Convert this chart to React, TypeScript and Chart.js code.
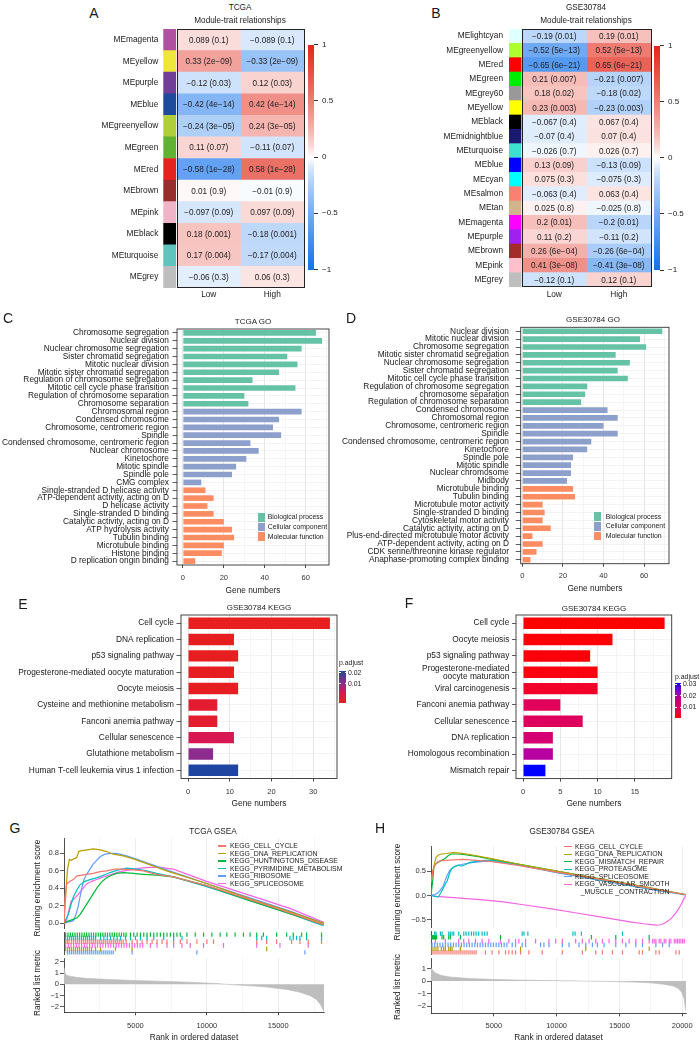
import React, { useEffect, useRef } from "react";
import { Chart, registerables } from "chart.js";

Chart.register(...registerables);

const FONT = '"Liberation Sans", Arial, Helvetica, sans-serif';
Chart.defaults.font.family = FONT;
Chart.defaults.color = "#1a1a1a";

/* ================= DATA ================= */
// A: TCGA module-trait relationships
const modulesA = ["MEmagenta", "MEyellow", "MEpurple", "MEblue", "MEgreenyellow", "MEgreen", "MEred", "MEbrown", "MEpink", "MEblack", "MEturquoise", "MEgrey"];
const moduleColorsA = ["#B050A0", "#EEE63C", "#704098", "#1E4B9B", "#B0CE3C", "#5FB232", "#E4231E", "#982D2D", "#F0B4C8", "#000000", "#5FC3BE", "#BEBEBE"];
const corLowA = [0.089, 0.33, -0.12, -0.42, -0.24, 0.11, -0.58, 0.01, -0.097, 0.18, 0.17, -0.06];
const pValA = ["0.1", "2e−09", "0.03", "4e−14", "3e−05", "0.07", "1e−28", "0.9", "0.09", "0.001", "0.004", "0.3"];

// B: GSE30784 module-trait relationships
const modulesB = ["MElightcyan", "MEgreenyellow", "MEred", "MEgreen", "MEgrey60", "MEyellow", "MEblack", "MEmidnightblue", "MEturquoise", "MEblue", "MEcyan", "MEsalmon", "MEtan", "MEmagenta", "MEpurple", "MEbrown", "MEpink", "MEgrey"];
const moduleColorsB = ["#E0FFFF", "#ADFF2F", "#FF0000", "#00EE00", "#999999", "#FFFF00", "#000000", "#191970", "#40E0D0", "#0000FF", "#00FFFF", "#FA8072", "#D2B48C", "#FF00FF", "#A020F0", "#A52A2A", "#FFC0CB", "#BEBEBE"];
const corLowB = [-0.19, -0.52, -0.65, 0.21, 0.18, 0.23, -0.067, -0.07, -0.026, 0.13, 0.075, -0.063, 0.025, 0.2, 0.11, 0.26, 0.41, -0.12];
const pValB = ["0.01", "5e−13", "6e−21", "0.007", "0.02", "0.003", "0.4", "0.4", "0.7", "0.09", "0.3", "0.4", "0.8", "0.01", "0.2", "6e−04", "3e−08", "0.1"];

// C: TCGA GO
const goTermsC = ["Chromosome segregation", "Nuclear division", "Nuclear chromosome segregation", "Sister chromatid segregation", "Mitotic nuclear division", "Mitotic sister chromatid segregation", "Regulation of chromosome segregation", "Mitotic cell cycle phase transition", "Regulation of chromosome separation", "Chromosome separation", "Chromosomal region", "Condensed chromosome", "Chromosome, centromeric region", "Spindle", "Condensed chromosome, centromeric region", "Nuclear chromosome", "Kinetochore", "Mitotic spindle", "Spindle pole", "CMG complex", "Single-stranded D helicase activity", "ATP-dependent activity, acting on D", "D helicase activity", "Single-stranded D binding", "Catalytic activity, acting on D", "ATP hydrolysis activity", "Tubulin binding", "Microtubule binding", "Histone binding", "D replication origin binding"];
const goCountsC = [65, 68, 58, 51, 56, 47, 34, 55, 30, 32, 58, 47, 44, 48, 33, 37, 31, 26, 24, 9, 11, 15, 12, 15, 20, 24, 25, 20, 19, 6];
const goClassC = ["BP", "BP", "BP", "BP", "BP", "BP", "BP", "BP", "BP", "BP", "CC", "CC", "CC", "CC", "CC", "CC", "CC", "CC", "CC", "CC", "MF", "MF", "MF", "MF", "MF", "MF", "MF", "MF", "MF", "MF"];

// D: GSE30784 GO
const goTermsD = ["Nuclear division", "Mitotic nuclear division", "Chromosome segregation", "Mitotic sister chromatid segregation", "Nuclear chromosome segregation", "Sister chromatid segregation", "Mitotic cell cycle phase transition", "Regulation of chromosome segregation", "chromosome separation", "Regulation of chromosome separation", "Condensed chromosome", "Chromosomal region", "Chromosome, centromeric region", "Spindle", "Condensed chromosome, centromeric region", "Kinetochore", "Spindle pole", "Mitotic spindle", "Nuclear chromosome", "Midbody", "Microtubule binding", "Tubulin binding", "Microtubule motor activity", "Single-stranded D binding", "Cytoskeletal motor activity", "Catalytic activity, acting on D", "Plus-end-directed microtubule motor activity", "ATP-dependent activity, acting on D", "CDK serine/threonine kinase regulator", "Anaphase-promoting complex binding"];
const goCountsD = [69, 58, 61, 46, 53, 47, 52, 32, 31, 29, 42, 47, 40, 47, 34, 32, 25, 24, 24, 22, 25, 26, 10, 11, 10, 14, 5, 10, 7, 4];
const goClassD = ["BP", "BP", "BP", "BP", "BP", "BP", "BP", "BP", "BP", "BP", "CC", "CC", "CC", "CC", "CC", "CC", "CC", "CC", "CC", "CC", "MF", "MF", "MF", "MF", "MF", "MF", "MF", "MF", "MF", "MF"];

// E / F: KEGG
const keggTermsE = ["Cell cycle", "DNA replication", "p53 signaling pathway", "Progesterone-mediated oocyte maturation", "Oocyte meiosis", "Cysteine and methionine metabolism", "Fanconi anemia pathway", "Cellular senescence", "Glutathione metabolism", "Human T-cell leukemia virus 1 infection"];
const keggCountsE = [34, 11, 12, 11, 12, 7, 7, 11, 6, 12];
const keggPadjE = [0.0001, 0.0003, 0.0003, 0.0004, 0.0004, 0.0024, 0.0024, 0.0072, 0.0156, 0.024];

const keggTermsF = ["Cell cycle", "Oocyte meiosis", "p53 signaling pathway", ["Progesterone-mediated", "oocyte maturation"], "Viral carcinogenesis", "Fanconi anemia pathway", "Cellular senescence", "DNA replication", "Homologous recombination", "Mismatch repair"];
const keggCountsF = [19, 12, 9, 10, 10, 5, 8, 4, 4, 3];
const keggPadjF = [0.0003, 0.0008, 0.0012, 0.0016, 0.004, 0.009, 0.0095, 0.012, 0.019, 0.031];

// G: TCGA GSEA (rank, running ES)
const gseaNamesG = ["KEGG_CELL_CYCLE", "KEGG_DNA_REPLICATION", "KEGG_HUNTINGTONS_DISEASE", "KEGG_PYRIMIDINE_METABOLISM", "KEGG_RIBOSOME", "KEGG_SPLICEOSOME"];
const gEsCell = [[0, 0], [70, 0.3], [187, 0.45], [420, 0.48], [653, 0.5], [887, 0.54], [1237, 0.55], [1587, 0.56], [2053, 0.57], [2520, 0.59], [2986, 0.6], [3570, 0.62], [4153, 0.62], [4853, 0.61], [5553, 0.6], [6486, 0.56], [7653, 0.53], [9985, 0.43], [13018, 0.27], [15817, 0.12], [18033, -0.01], [18200, -0.01]];
const gEsDna = [[0, 0], [117, 0.3], [233, 0.6], [373, 0.73], [537, 0.72], [700, 0.74], [887, 0.75], [1027, 0.82], [1237, 0.83], [1633, 0.84], [2053, 0.85], [2520, 0.84], [2986, 0.82], [3453, 0.79], [4153, 0.77], [4969, 0.73], [7186, 0.6], [9985, 0.455], [13018, 0.28], [15817, 0.13], [18200, 0.0]];
const gEsHunt = [[0, 0], [187, 0.02], [537, 0.04], [887, 0.06], [1120, 0.1], [1353, 0.16], [1587, 0.22], [1820, 0.28], [2053, 0.34], [2286, 0.4], [2520, 0.45], [2753, 0.49], [2986, 0.52], [3336, 0.55], [3686, 0.57], [4153, 0.58], [4853, 0.57], [5553, 0.56], [6486, 0.55], [7653, 0.53], [9985, 0.43], [13018, 0.26], [15817, 0.11], [18033, -0.01], [18200, -0.01]];
const gEsPyr = [[0, 0], [140, 0.05], [303, 0.1], [467, 0.2], [653, 0.3], [840, 0.36], [1120, 0.44], [1470, 0.48], [1820, 0.5], [2286, 0.52], [2753, 0.55], [3220, 0.58], [3803, 0.61], [4386, 0.63], [5086, 0.62], [5786, 0.6], [6486, 0.57], [7653, 0.53], [9985, 0.42], [13018, 0.26], [15817, 0.11], [18033, -0.02], [18200, -0.02]];
const gEsRibo = [[0, 0], [187, 0.01], [420, 0.02], [653, 0.03], [840, 0.1], [1003, 0.2], [1120, 0.3], [1237, 0.4], [1400, 0.5], [1587, 0.56], [1820, 0.62], [2053, 0.68], [2286, 0.72], [2520, 0.76], [2870, 0.79], [3336, 0.8], [3686, 0.8], [4386, 0.77], [4969, 0.74], [7186, 0.61], [9985, 0.455], [13018, 0.29], [15817, 0.14], [18200, 0.0]];
const gEsSplice = [[0, 0], [187, 0.04], [350, 0.15], [490, 0.25], [700, 0.28], [933, 0.32], [1237, 0.38], [1587, 0.45], [1937, 0.48], [2286, 0.5], [2753, 0.53], [3336, 0.56], [3920, 0.59], [4620, 0.61], [5320, 0.63], [6020, 0.64], [6720, 0.64], [7653, 0.62], [9985, 0.48], [13018, 0.32], [15817, 0.17], [18200, 0.01]];
// G: hit positions (rug)
const gHitsHunt = [116, 279, 442, 605, 768, 930, 1093, 1256, 1419, 1582, 1745, 1907, 2070, 2233, 2396, 2559, 2721, 2884, 3047, 3210, 3373, 3536, 3698, 3861, 4024, 4187, 4350, 4652, 4885, 5117, 5350, 5582, 5815, 6048, 6280, 6513, 6745, 6978, 7210, 7443, 7676, 7908, 8141, 8606, 9188, 9769, 10351, 10932, 11397, 11979, 12560, 13026, 13491, 13956, 14886, 15584, 16049, 16631, 16980, 18027];
const gHitsPyr = [116, 256, 395, 535, 675, 814, 954, 1093, 1233, 1372, 1512, 1651, 1791, 1931, 2070, 2210, 2559, 2791, 3024, 3256, 3489, 3722, 3954, 4303, 4652, 5001, 5350, 5815, 6280, 6978, 7676, 8257, 13491, 13840, 14189, 15817, 16049, 16282, 16515, 16980, 18027];
const gHitsCell = [116, 233, 350, 512, 651, 791, 930, 1070, 1210, 1349, 1489, 1628, 1768, 1907, 2047, 2186, 2326, 2466, 2605, 2745, 2884, 3024, 3163, 3303, 3443, 3582, 3722, 3861, 4001, 4140, 4350, 4768, 5117, 5466, 5815, 6164, 6513, 6862, 7210, 7676, 8141, 8606, 9304, 10002, 10467, 13491, 14189, 14886, 15933, 16515, 17096, 18027];
const gHitsSplice = [116, 302, 488, 675, 861, 1047, 1233, 1419, 1605, 1791, 1977, 2163, 2349, 2535, 2721, 2908, 3094, 3280, 3466, 3652, 3838, 4024, 4210, 4396, 4582, 4768, 4954, 5140, 5327, 5513, 6048, 6513, 7210, 7676, 8257, 8839, 9769, 11165, 13491, 15119, 17096];
const gHitsDna = [116, 256, 395, 535, 675, 814, 954, 1093, 1233, 1372, 1512, 1651, 1791, 1931, 2210, 2559, 3605, 4768, 14189];
const gHitsRibo = [233, 372, 512, 651, 791, 930, 1070, 1210, 1349, 1489, 1628, 1768, 1907, 2047, 2186, 2326, 2466, 2605, 2745, 2884, 3024, 3163, 3303, 3443, 4769, 9304, 16864];
const gMetric = [[0, 1.5], [93, 0.95], [187, 0.8], [420, 0.72], [887, 0.62], [1587, 0.53], [2520, 0.47], [3686, 0.4], [4853, 0.35], [6020, 0.3], [7186, 0.26], [8353, 0.21], [9519, 0.15], [10686, 0.08], [11386, 0.0], [11852, -0.04], [13252, -0.15], [14186, -0.24], [15585, -0.45], [16518, -0.7], [17218, -1.0], [17684, -1.35], [17964, -1.8], [18150, -2.3], [18200, -2.4]];

// H: GSE30784 GSEA
const gseaNamesH = ["KEGG_CELL_CYCLE", "KEGG_DNA_REPLICATION", "KEGG_MISMATCH_REPAIR", "KEGG_PROTEASOME", "KEGG_SPLICEOSOME", "KEGG_VASCULAR_SMOOTH"];
const hEsCell = [[0, 0.25], [133, 0.5], [318, 0.62], [504, 0.68], [717, 0.71], [1115, 0.72], [1778, 0.73], [2574, 0.74], [3636, 0.72], [4698, 0.7], [6821, 0.62], [10006, 0.48], [13456, 0.33], [16906, 0.17], [20223, 0.02], [20300, 0.02]];
const hEsDna = [[0, 0.3], [186, 0.55], [398, 0.78], [584, 0.83], [849, 0.85], [1247, 0.86], [1778, 0.88], [2309, 0.87], [3105, 0.84], [4698, 0.76], [6821, 0.65], [10006, 0.5], [13456, 0.34], [16906, 0.18], [20223, 0.02], [20300, 0.02]];
const hEsMis = [[0, 0], [133, 0.3], [239, 0.6], [398, 0.65], [584, 0.68], [849, 0.72], [1115, 0.76], [1380, 0.82], [1646, 0.85], [2044, 0.85], [2574, 0.84], [3636, 0.8], [4698, 0.75], [6821, 0.65], [10006, 0.5], [13456, 0.34], [16906, 0.18], [20223, 0.02], [20300, 0.02]];
const hEsProt = [[0, 0], [318, -0.02], [584, -0.03], [770, 0.05], [982, 0.15], [1168, 0.25], [1300, 0.3], [1460, 0.45], [1646, 0.55], [1911, 0.6], [2176, 0.62], [2442, 0.6], [2707, 0.63], [3105, 0.68], [3636, 0.7], [4167, 0.72], [4963, 0.72], [6821, 0.64], [10006, 0.48], [13456, 0.32], [16906, 0.16], [20223, 0.02], [20300, 0.02]];
const hEsSplice = [[0, 0], [318, 0.02], [584, 0.06], [770, 0.12], [982, 0.2], [1115, 0.3], [1300, 0.42], [1513, 0.52], [1778, 0.58], [2176, 0.62], [2707, 0.65], [3371, 0.68], [4167, 0.7], [4963, 0.7], [6821, 0.63], [10006, 0.47], [13456, 0.31], [16906, 0.15], [20223, 0.01], [20300, 0.01]];
const hEsVasc = [[0, 0], [451, -0.02], [1513, -0.04], [2574, -0.06], [4167, -0.09], [5759, -0.13], [7352, -0.19], [9475, -0.27], [11598, -0.36], [13721, -0.45], [15844, -0.54], [16906, -0.58], [17968, -0.61], [18233, -0.6], [18498, -0.58], [18711, -0.55], [18897, -0.52], [19083, -0.48], [19295, -0.42], [19508, -0.35], [19693, -0.28], [19879, -0.2], [20038, -0.12], [20171, -0.05], [20300, 0]];
const hHitsProt = [290, 400, 750, 880, 1410, 1540, 1680, 1810, 2210, 2610, 2790, 3010, 3220, 3400, 3590, 3800, 4070, 4280, 4470, 7260, 7400, 7710, 11300, 11470, 11970, 15240];
const hHitsMis = [30, 120, 200, 280, 360, 440, 880, 1010, 1410, 1540, 2340, 5530, 12770, 14710, 17370];
const hHitsVasc = [346, 1144, 2208, 2607, 3006, 3538, 4070, 4602, 5533, 6198, 6730, 6996, 7528, 8326, 9390, 9922, 10454, 11518, 12050, 12582, 13114, 13646, 14178, 14710, 15242, 15774, 16306, 16838, 17370, 17636, 17769, 17902, 18168, 18301, 18567, 18700, 18966, 19099, 19365, 19498, 19631, 19764, 19897, 20030, 20163];
const hHitsSplice = [80, 293, 505, 718, 931, 1144, 1357, 1569, 1782, 1995, 2208, 2421, 2633, 2846, 3059, 3272, 3485, 3697, 3910, 4123, 4336, 4549, 4761, 4974, 5187, 5400, 5613, 5825, 6038, 6464, 6730, 7262, 7528, 8725, 8991, 9390, 10454, 10986, 11784, 12316, 12848, 13247, 13779, 14710, 15508, 16306, 16838, 17902, 18434, 18966];
const hHitsDna = [80, 239, 399, 559, 825, 1011, 1144, 1410, 1543, 1676, 2341, 7129, 12316, 17370];
const hHitsCell = [80, 239, 399, 559, 718, 878, 1037, 1197, 1357, 1516, 1676, 1835, 1995, 2155, 2314, 2474, 2633, 2793, 2953, 3112, 3272, 3431, 3591, 4336, 4868, 5400, 5932, 6198, 6464, 6730, 7129, 7794, 8858, 10454, 12050, 13114, 13646, 14444, 15242, 16572, 16838, 17902, 18168, 19498, 19764];
const hMetric = [[0, 1.05], [106, 0.9], [239, 0.75], [451, 0.6], [849, 0.45], [1513, 0.33], [2840, 0.22], [4167, 0.16], [5494, 0.12], [6821, 0.08], [9475, 0.04], [12129, 0.0], [14783, -0.04], [16110, -0.08], [17437, -0.14], [18498, -0.25], [19295, -0.4], [19693, -0.6], [19959, -0.9], [20145, -1.4], [20251, -2.2], [20300, -2.4]];

/* ================= STYLE HELPERS ================= */
const HUE = { red: "#F8766D", olive: "#B79F00", green: "#00BA38", cyan: "#00BFC4", blue: "#619CFF", pink: "#F564E3" };
const GO_COLORS: Record<string, string> = { BP: "#66C2A5", CC: "#8DA0CB", MF: "#FC8D62" };
const STOPS_E: [number, number[]][] = [[0, [232, 30, 30]], [0.3, [216, 24, 82]], [0.65, [140, 44, 140]], [1, [30, 70, 160]]];
const STOPS_F: [number, number[]][] = [[0, [255, 0, 0]], [0.2, [235, 0, 70]], [0.4, [210, 0, 117]], [0.65, [176, 0, 168]], [0.85, [110, 0, 220]], [1, [0, 0, 255]]];

type Box = [number, number, number, number];
type Area = [number, number, number, number];

const MINUS = "\u2212";
const signed = (v: number) => (v < 0 ? MINUS + String(Math.abs(v)) : String(v));
const fixed1 = (v: number) => {
  const s = Math.abs(v) < 1e-9 ? "0.0" : Math.abs(v).toFixed(1);
  return v < -1e-9 ? MINUS + s : s;
};

function fitInfo(box: Box, area: Area) {
  const [cx, cy, cw, ch] = box;
  const [L, T, R, B] = area;
  return { yW: L - cx, xH: cy + ch - B, padTop: T - cy, padRight: cx + cw - R };
}
const zeroPad = (s: any) => {
  s.paddingLeft = 0; s.paddingRight = 0; s.paddingTop = 0; s.paddingBottom = 0;
};
const fitW = (w: number) => (s: any) => { s.width = w; zeroPad(s); };
const fitH = (h: number) => (s: any) => { s.height = h; zeroPad(s); };

const BLUE_END = [20, 115, 235];
const RED_END = [225, 40, 25];
function corColor(v: number) {
  const t = Math.pow(Math.min(1, Math.abs(v)), 0.75);
  const end = v < 0 ? BLUE_END : RED_END;
  const c = end.map((e) => Math.round(255 + (e - 255) * t));
  return `rgb(${c.join(",")})`;
}
function rampColor(stops: [number, number[]][], t: number) {
  const tt = Math.max(0, Math.min(1, t));
  for (let i = 1; i < stops.length; i++) {
    const [t0, c0] = stops[i - 1];
    const [t1, c1] = stops[i];
    if (tt <= t1) {
      const f = (tt - t0) / (t1 - t0);
      return `rgb(${c0.map((c, k) => Math.round(c + (c1[k] - c) * f)).join(",")})`;
    }
  }
  return `rgb(${stops[stops.length - 1][1].join(",")})`;
}

const panelBorder = {
  id: "panelBorder",
  afterDraw(chart: any) {
    const { left, top, right, bottom } = chart.chartArea;
    const ctx = chart.ctx;
    ctx.save();
    ctx.strokeStyle = "#333";
    ctx.lineWidth = 0.9;
    ctx.strokeRect(left, top, right - left, bottom - top);
    ctx.restore();
  },
};

function cellTextPlugin(cors: number[], ps: string[]) {
  return {
    id: "cellText",
    afterDatasetsDraw(chart: any) {
      const ctx = chart.ctx;
      const xs = chart.scales.x;
      const ca = chart.chartArea;
      ctx.save();
      ctx.font = `8.2px ${FONT}`;
      ctx.fillStyle = "#222";
      ctx.textAlign = "center";
      ctx.textBaseline = "middle";
      [1, 2].forEach((di) => {
        const meta = chart.getDatasetMeta(di);
        const cx = xs.getPixelForValue(di === 1 ? 0.5 : 1.5);
        meta.data.forEach((el: any, i: number) => {
          const v = di === 1 ? cors[i] : -cors[i];
          ctx.fillText(`${signed(v)} (${ps[i]})`, cx, el.y + 0.5);
        });
      });
      const l = xs.getPixelForValue(0);
      const r = xs.getPixelForValue(2);
      ctx.strokeStyle = "#222";
      ctx.lineWidth = 1;
      ctx.strokeRect(Math.round(l) + 0.5, Math.round(ca.top) + 0.5, Math.round(r - l), Math.round(ca.bottom - ca.top) - 1);
      ctx.restore();
    },
  };
}

/* ================= CONFIG BUILDERS ================= */
function heatmapConfig(o: { box: Box; area: Area; labels: string[]; strip: string[]; cors: number[]; ps: string[]; xMin: number; stripEnd: number; labelPad: number; xPad: number }) {
  const f = fitInfo(o.box, o.area);
  return {
    type: "bar",
    data: {
      labels: o.labels,
      datasets: [
        { data: o.labels.map(() => [o.xMin, o.stripEnd]), backgroundColor: o.strip, grouped: false },
        { data: o.cors.map(() => [0, 1]), backgroundColor: o.cors.map((v) => corColor(v)), grouped: false },
        { data: o.cors.map(() => [1, 2]), backgroundColor: o.cors.map((v) => corColor(-v)), grouped: false },
      ],
    },
    options: {
      indexAxis: "y",
      responsive: false,
      animation: false,
      layout: { padding: { left: 0, top: f.padTop, right: f.padRight, bottom: 0 } },
      plugins: { legend: { display: false }, tooltip: { enabled: false } },
      datasets: { bar: { barPercentage: 1, categoryPercentage: 1, borderWidth: 0 } },
      scales: {
        x: {
          type: "linear", min: o.xMin, max: 2,
          afterBuildTicks: (s: any) => { s.ticks = [{ value: 0.5 }, { value: 1.5 }]; },
          grid: { display: false, drawTicks: false },
          border: { display: false },
          ticks: { callback: (v: number) => (v < 1 ? "Low" : "High"), font: { size: 8.3 }, padding: o.xPad, maxRotation: 0, autoSkip: false, color: "#1a1a1a" },
          afterFit: fitH(f.xH),
        },
        y: {
          grid: { display: false, drawTicks: false },
          border: { display: false },
          ticks: { font: { size: 8.3 }, padding: o.labelPad, autoSkip: false, color: "#1a1a1a" },
          afterFit: fitW(f.yW),
        },
      },
    },
    plugins: [cellTextPlugin(o.cors, o.ps)],
  };
}

function hbarConfig(o: { box: Box; area: Area; labels: any[]; values: number[]; colors: string[]; xMin: number; xMax: number; step: number; major: number; barPct: number; tickLen: number; labelPad: number; xLabelPad: number; titlePad: number; lineHeight?: number }) {
  const f = fitInfo(o.box, o.area);
  const tickVals: number[] = [];
  for (let v = 0; v <= o.xMax + 1e-9; v += o.step) tickVals.push(v);
  const isMajor = (v: any) => typeof v === "number" && Math.abs(v / o.major - Math.round(v / o.major)) < 1e-6;
  return {
    type: "bar",
    data: {
      labels: o.labels,
      datasets: [{ data: o.values, backgroundColor: o.colors, borderWidth: 0, barPercentage: o.barPct, categoryPercentage: 1 }],
    },
    options: {
      indexAxis: "y",
      responsive: false,
      animation: false,
      layout: { padding: { left: 0, top: f.padTop, right: f.padRight, bottom: 0 } },
      plugins: { legend: { display: false }, tooltip: { enabled: false } },
      scales: {
        x: {
          type: "linear", min: o.xMin, max: o.xMax,
          afterBuildTicks: (s: any) => { s.ticks = tickVals.map((v) => ({ value: v })); },
          grid: {
            color: (c: any) => (isMajor(c.tick && c.tick.value) ? "#E3E3E3" : "#EFEFEF"),
            lineWidth: (c: any) => (isMajor(c.tick && c.tick.value) ? 0.9 : 0.6),
            tickColor: (c: any) => (isMajor(c.tick && c.tick.value) ? "#333" : "rgba(0,0,0,0)"),
            tickLength: 3, drawTicks: true,
          },
          border: { display: false },
          ticks: { callback: (v: number) => (isMajor(v) ? String(v) : ""), font: { size: 7.5 }, padding: o.xLabelPad, maxRotation: 0, autoSkip: false, color: "#333" },
          title: { display: true, text: "Gene numbers", font: { size: 8.3 }, padding: { top: 0, bottom: o.titlePad }, color: "#1a1a1a" },
          afterFit: fitH(f.xH),
        },
        y: {
          type: "category", offset: true,
          grid: { offset: false, color: "#EBEBEB", lineWidth: 0.6, drawTicks: true, tickLength: o.tickLen, tickColor: "#333", tickWidth: 0.8 },
          border: { display: false },
          ticks: { font: { size: 8.35, lineHeight: o.lineHeight || 1.2 }, padding: o.labelPad, autoSkip: false, color: "#1a1a1a" },
          afterFit: fitW(f.yW),
        },
      },
    },
    plugins: [panelBorder],
  };
}

function gseaTopConfig(o: { box: Box; area: Area; sets: { pts: number[][]; color: string }[]; N: number; yMin: number; yMax: number; yTicks: number[]; grid: number[]; majors: number[] }) {
  const f = fitInfo(o.box, o.area);
  return {
    type: "line",
    data: {
      datasets: o.sets.map((s) => ({ data: s.pts.map(([x, y]) => ({ x, y })), borderColor: s.color, borderWidth: 1.2, pointRadius: 0, fill: false, tension: 0 })),
    },
    options: {
      responsive: false,
      animation: false,
      layout: { padding: { left: 0, top: f.padTop, right: f.padRight, bottom: 0 } },
      plugins: { legend: { display: false }, tooltip: { enabled: false } },
      scales: {
        x: {
          type: "linear", min: 0, max: o.N,
          afterBuildTicks: (s: any) => { s.ticks = o.grid.map((v) => ({ value: v })); },
          ticks: { display: false },
          grid: { color: "#EBEBEB", lineWidth: (c: any) => (o.majors.includes(c.tick && c.tick.value) ? 0.9 : 0.5), drawTicks: false },
          border: { display: false },
          afterFit: fitH(f.xH),
        },
        y: {
          type: "linear", min: o.yMin, max: o.yMax,
          afterBuildTicks: (s: any) => { s.ticks = o.yTicks.map((v) => ({ value: v })); },
          ticks: { callback: (v: number) => fixed1(v), font: { size: 7.5 }, padding: 1, color: "#333" },
          grid: { drawOnChartArea: false, drawTicks: true, tickLength: 4, tickColor: "#333", tickWidth: 0.8 },
          border: { display: true, color: "#222", width: 0.8 },
          afterFit: fitW(f.yW),
        },
      },
    },
  };
}

function gseaRugConfig(o: { box: Box; area: Area; rows: { hits: number[]; color: string }[]; N: number }) {
  const f = fitInfo(o.box, o.area);
  const n = o.rows.length;
  return {
    type: "scatter",
    data: {
      datasets: o.rows.map((r, i) => ({
        data: r.hits.map((x) => ({ x, y: n - 1 - i })),
        pointStyle: "line", pointRotation: 90, pointRadius: 2.3, pointHoverRadius: 2.3,
        pointBorderWidth: 1.2, pointBorderColor: r.color, borderColor: r.color, backgroundColor: r.color,
      })),
    },
    options: {
      responsive: false,
      animation: false,
      layout: { padding: { left: 0, top: f.padTop, right: f.padRight, bottom: f.xH } },
      plugins: { legend: { display: false }, tooltip: { enabled: false } },
      scales: {
        x: { type: "linear", min: 0, max: o.N, display: false },
        y: {
          type: "linear", min: -0.5, max: n - 0.5,
          ticks: { display: false },
          grid: { display: false, drawTicks: false },
          border: { display: true, color: "#222", width: 0.8 },
          afterFit: fitW(f.yW),
        },
      },
    },
  };
}

function gseaMetricConfig(o: { box: Box; area: Area; pts: number[][]; N: number; yMin: number; yMax: number; yTicks: number[]; grid: number[]; majors: number[]; labelPad: number; titlePad: number }) {
  const f = fitInfo(o.box, o.area);
  const isMaj = (v: any) => o.majors.includes(v);
  return {
    type: "line",
    data: {
      datasets: [{ data: o.pts.map(([x, y]) => ({ x, y })), borderColor: "#BEBEBE", borderWidth: 0.6, backgroundColor: "#BEBEBE", fill: "origin", pointRadius: 0, tension: 0 }],
    },
    options: {
      responsive: false,
      animation: false,
      layout: { padding: { left: 0, top: f.padTop, right: f.padRight, bottom: 0 } },
      plugins: { legend: { display: false }, tooltip: { enabled: false } },
      scales: {
        x: {
          type: "linear", min: 0, max: o.N,
          afterBuildTicks: (s: any) => { s.ticks = o.grid.map((v) => ({ value: v })); },
          ticks: { callback: (v: number) => (isMaj(v) ? String(v) : ""), font: { size: 7.5 }, padding: o.labelPad, maxRotation: 0, autoSkip: false, color: "#333" },
          grid: {
            color: "#EBEBEB",
            lineWidth: (c: any) => (isMaj(c.tick && c.tick.value) ? 0.9 : 0.5),
            drawTicks: true, tickLength: 3,
            tickColor: (c: any) => (isMaj(c.tick && c.tick.value) ? "#333" : "rgba(0,0,0,0)"),
          },
          border: { display: true, color: "#222", width: 0.8 },
          title: { display: true, text: "Rank in ordered dataset", font: { size: 8.3 }, padding: { top: 0, bottom: o.titlePad }, color: "#1a1a1a" },
          afterFit: fitH(f.xH),
        },
        y: {
          type: "linear", min: o.yMin, max: o.yMax,
          afterBuildTicks: (s: any) => { s.ticks = o.yTicks.map((v) => ({ value: v })); },
          ticks: { callback: (v: number) => signed(v), font: { size: 7.5 }, padding: 1, color: "#333" },
          grid: { drawOnChartArea: false, drawTicks: true, tickLength: 4, tickColor: "#333", tickWidth: 0.8 },
          border: { display: true, color: "#222", width: 0.8 },
          afterFit: fitW(f.yW),
        },
      },
    },
  };
}

/* ================= COMPONENTS ================= */
function ChartBox({ box, make }: { box: Box; make: () => any }) {
  const ref = useRef<HTMLCanvasElement | null>(null);
  useEffect(() => {
    if (!ref.current) return;
    const chart = new Chart(ref.current, make());
    return () => chart.destroy();
  }, []);
  const [x, y, w, h] = box;
  return <canvas ref={ref} width={w} height={h} style={{ position: "absolute", left: x, top: y, width: w, height: h }} />;
}

function Txt({ x, y, size = 8.3, align = "center", rot = 0, color = "#1a1a1a", children }: any) {
  const tx = align === "left" ? "0%" : align === "right" ? "-100%" : "-50%";
  return (
    <div
      style={{
        position: "absolute", left: x, top: y,
        transform: `translate(${tx}, -50%)${rot ? ` rotate(${rot}deg)` : ""}`,
        fontSize: size, fontFamily: FONT, lineHeight: 1, whiteSpace: "nowrap", color,
      }}
    >
      {children}
    </div>
  );
}

function HeatColorBar({ x, top, bottom, w, labelX }: { x: number; top: number; bottom: number; w: number; labelX: number }) {
  const parts: string[] = [];
  for (let i = 0; i <= 20; i++) {
    const v = 1 - i / 10;
    parts.push(`${corColor(v)} ${(i / 20) * 100}%`);
  }
  const yOf = (v: number) => top + ((1 - v) / 2) * (bottom - top);
  const ticks = [1, 0.5, 0, -0.5, -1];
  return (
    <>
      <div style={{ position: "absolute", left: x, top, width: w, height: bottom - top, background: `linear-gradient(to bottom, ${parts.join(", ")})` }} />
      {ticks.map((v) => (
        <React.Fragment key={v}>
          <div style={{ position: "absolute", left: x + w, top: yOf(v) - 0.4, width: 4, height: 0.8, background: "#333" }} />
          <Txt x={labelX} y={yOf(v)} size={8} align="left">{signed(v)}</Txt>
        </React.Fragment>
      ))}
    </>
  );
}

function PColorBar({ x, top, bottom, w, stops, labels, labelX, titleY }: { x: number; top: number; bottom: number; w: number; stops: [number, number[]][]; labels: [string, number][]; labelX: number; titleY: number }) {
  const parts: string[] = [];
  for (let i = 0; i <= 10; i++) parts.push(`${rampColor(stops, i / 10)} ${i * 10}%`);
  return (
    <>
      <Txt x={x} y={titleY} size={6.9} align="left">p.adjust</Txt>
      <div style={{ position: "absolute", left: x, top, width: w, height: bottom - top, background: `linear-gradient(to top, ${parts.join(", ")})` }} />
      {labels.map(([t, y]) => (
        <React.Fragment key={t}>
          <div style={{ position: "absolute", left: x, top: y - 0.4, width: 1.5, height: 0.8, background: "#fff" }} />
          <div style={{ position: "absolute", left: x + w - 1.5, top: y - 0.4, width: 1.5, height: 0.8, background: "#fff" }} />
          <Txt x={labelX} y={y} size={6.9} align="left">{t}</Txt>
        </React.Fragment>
      ))}
    </>
  );
}

function GoLegend({ x, y, textX }: { x: number; y: number; textX: number }) {
  const items: [string, string][] = [["Biological process", GO_COLORS.BP], ["Cellular component", GO_COLORS.CC], ["Molecular function", GO_COLORS.MF]];
  return (
    <>
      {items.map(([t, c], i) => (
        <React.Fragment key={t}>
          <div style={{ position: "absolute", left: x, top: y + i * 9.7 - 4.3, width: 6.7, height: 8.6, background: c }} />
          <Txt x={textX} y={y + i * 9.7} size={6.9} align="left">{t}</Txt>
        </React.Fragment>
      ))}
    </>
  );
}

function GseaLegend({ x, textX, y, names, colors, extra }: { x: number; textX: number; y: number; names: string[]; colors: string[]; extra?: [string, number] }) {
  return (
    <>
      {names.map((n, i) => (
        <React.Fragment key={n}>
          <div style={{ position: "absolute", left: x, top: y + i * 7.5 - 0.6, width: 8, height: 1.2, background: colors[i] }} />
          <Txt x={textX} y={y + i * 7.5} size={6.9} align="left">{n}</Txt>
        </React.Fragment>
      ))}
      {extra ? <Txt x={extra[1]} y={y + names.length * 7.5} size={6.9} align="left">{extra[0]}</Txt> : null}
    </>
  );
}

/* ================= APP ================= */
const BOX_A: Box = [0, 24, 312, 282];
const BOX_B: Box = [350, 24, 308, 282];
const BOX_C: Box = [0, 320, 345, 280];
const BOX_D: Box = [330, 318, 360, 282];
const BOX_E: Box = [0, 610, 345, 202];
const BOX_F: Box = [350, 610, 345, 202];
const BOX_G1: Box = [30, 834, 300, 95];
const BOX_G2: Box = [30, 929, 300, 29];
const BOX_G3: Box = [30, 958, 300, 87];
const BOX_H1: Box = [395, 843, 300, 85];
const BOX_H2: Box = [395, 928, 300, 30];
const BOX_H3: Box = [395, 958, 300, 87];

const gridG = [2500, 5000, 7500, 10000, 12500, 15000, 17500];
const gridH = [2500, 5000, 7500, 10000, 12500, 15000, 17500, 20000];

export default function App() {
  const colsG = [HUE.red, HUE.olive, HUE.green, HUE.cyan, HUE.blue, HUE.pink];
  const colsH = [HUE.red, HUE.olive, HUE.green, HUE.cyan, HUE.blue, HUE.pink];
  return (
    <div style={{ position: "absolute", left: 0, top: 0, width: 700, height: 1045, overflow: "hidden", background: "#fff", fontFamily: FONT }}>
      {/* A */}
      <ChartBox box={BOX_A} make={() => heatmapConfig({ box: BOX_A, area: [163.3, 29, 304, 288], labels: modulesA, strip: moduleColorsA, cors: corLowA, ps: pValA, xMin: -0.2157, stripEnd: -0.0205, labelPad: 5, xPad: 2 })} />
      {/* B */}
      <ChartBox box={BOX_B} make={() => heatmapConfig({ box: BOX_B, area: [509, 29, 651, 287], labels: modulesB, strip: moduleColorsB, cors: corLowB, ps: pValB, xMin: -0.2016, stripEnd: -0.0155, labelPad: 6, xPad: 3 })} />
      {/* C */}
      <ChartBox box={BOX_C} make={() => hbarConfig({ box: BOX_C, area: [177, 329, 329, 565], labels: goTermsC, values: goCountsC, colors: goClassC.map((c) => GO_COLORS[c]), xMin: -2.9, xMax: 71.4, step: 10, major: 20, barPct: 0.72, tickLen: 4.5, labelPad: 3.5, xLabelPad: 5.8, titlePad: 4 })} />
      {/* D */}
      <ChartBox box={BOX_D} make={() => hbarConfig({ box: BOX_D, area: [520.7, 327.3, 669, 563.7], labels: goTermsD, values: goCountsD, colors: goClassD.map((c) => GO_COLORS[c]), xMin: -0.8, xMax: 72.3, step: 10, major: 20, barPct: 0.72, tickLen: 5, labelPad: 6.7, xLabelPad: 4.5, titlePad: 6.7 })} />
      {/* E */}
      <ChartBox box={BOX_E} make={() => hbarConfig({ box: BOX_E, area: [181, 615, 337, 778.5], labels: keggTermsE, values: keggCountsE, colors: keggPadjE.map((p) => rampColor(STOPS_E, p / 0.024)), xMin: -1.7, xMax: 35.7, step: 5, major: 10, barPct: 0.7, tickLen: 4.5, labelPad: 2.5, xLabelPad: 5.7, titlePad: 3 })} />
      {/* F */}
      <ChartBox box={BOX_F} make={() => hbarConfig({ box: BOX_F, area: [516, 615, 671.7, 778.6], labels: keggTermsF, values: keggCountsF, colors: keggPadjF.map((p) => rampColor(STOPS_F, (p - 0.0003) / 0.0307)), xMin: -0.95, xMax: 19.95, step: 2.5, major: 5, barPct: 0.7, tickLen: 4, labelPad: 2.7, xLabelPad: 5.6, titlePad: 3, lineHeight: 0.96 })} />
      {/* G */}
      <ChartBox box={BOX_G1} make={() => gseaTopConfig({ box: BOX_G1, area: [64, 838, 324, 929], sets: [{ pts: gEsCell, color: HUE.red }, { pts: gEsDna, color: HUE.olive }, { pts: gEsHunt, color: HUE.green }, { pts: gEsPyr, color: HUE.cyan }, { pts: gEsRibo, color: HUE.blue }, { pts: gEsSplice, color: HUE.pink }], N: 18200, yMin: -0.065, yMax: 0.975, yTicks: [0, 0.2, 0.4, 0.6, 0.8], grid: gridG, majors: [5000, 10000, 15000] })} />
      <ChartBox box={BOX_G2} make={() => gseaRugConfig({ box: BOX_G2, area: [64, 929, 324, 958], rows: [{ hits: gHitsHunt, color: HUE.green }, { hits: gHitsPyr, color: HUE.cyan }, { hits: gHitsCell, color: HUE.red }, { hits: gHitsSplice, color: HUE.pink }, { hits: gHitsDna, color: HUE.olive }, { hits: gHitsRibo, color: HUE.blue }], N: 18200 })} />
      <ChartBox box={BOX_G3} make={() => gseaMetricConfig({ box: BOX_G3, area: [64, 958, 324, 1012.3], pts: gMetric, N: 18200, yMin: -2.47, yMax: 2.33, yTicks: [-2, -1, 0, 1, 2], grid: gridG, majors: [5000, 10000, 15000], labelPad: 6.5, titlePad: 2.3 })} />
      {/* H */}
      <ChartBox box={BOX_H1} make={() => gseaTopConfig({ box: BOX_H1, area: [431, 846.7, 686, 928], sets: [{ pts: hEsCell, color: HUE.red }, { pts: hEsDna, color: HUE.olive }, { pts: hEsMis, color: HUE.green }, { pts: hEsProt, color: HUE.cyan }, { pts: hEsSplice, color: HUE.blue }, { pts: hEsVasc, color: HUE.pink }], N: 20300, yMin: -0.667, yMax: 1.0, yTicks: [-0.5, 0, 0.5], grid: gridH, majors: [5000, 10000, 15000, 20000] })} />
      <ChartBox box={BOX_H2} make={() => gseaRugConfig({ box: BOX_H2, area: [431, 928, 686, 958], rows: [{ hits: hHitsProt, color: HUE.cyan }, { hits: hHitsMis, color: HUE.green }, { hits: hHitsVasc, color: HUE.pink }, { hits: hHitsSplice, color: HUE.blue }, { hits: hHitsDna, color: HUE.olive }, { hits: hHitsCell, color: HUE.red }], N: 20300 })} />
      <ChartBox box={BOX_H3} make={() => gseaMetricConfig({ box: BOX_H3, area: [431, 958, 686, 1013.3], pts: hMetric, N: 20300, yMin: -2.58, yMax: 1.85, yTicks: [-2, -1, 0, 1], grid: gridH, majors: [5000, 10000, 15000, 20000], labelPad: 4.9, titlePad: 2.3 })} />

      {/* panel letters */}
      <Txt x={94} y={13} size={14}>A</Txt>
      <Txt x={436} y={13} size={14}>B</Txt>
      <Txt x={8} y={318} size={14}>C</Txt>
      <Txt x={351} y={318} size={14}>D</Txt>
      <Txt x={23} y={604} size={14}>E</Txt>
      <Txt x={409} y={603} size={14}>F</Txt>
      <Txt x={15} y={828} size={14}>G</Txt>
      <Txt x={380} y={828} size={14}>H</Txt>

      {/* titles */}
      <Txt x={240} y={8} size={8.2}>TCGA</Txt>
      <Txt x={240} y={21} size={8.2}>Module-trait relationships</Txt>
      <Txt x={586} y={8} size={8.2}>GSE30784</Txt>
      <Txt x={586} y={21} size={8.2}>Module-trait relationships</Txt>
      <Txt x={253} y={322} size={8}>TCGA GO</Txt>
      <Txt x={593} y={320} size={8}>GSE30784 GO</Txt>
      <Txt x={259} y={608} size={8}>GSE30784 KEGG</Txt>
      <Txt x={594} y={609} size={8}>GSE30784 KEGG</Txt>
      <Txt x={213} y={832} size={8.2}>TCGA GSEA</Txt>
      <Txt x={562} y={832} size={8.2}>GSE30784 GSEA</Txt>

      {/* heatmap colour bars */}
      <HeatColorBar x={308} top={44.5} bottom={269.5} w={5.5} labelX={322} />
      <HeatColorBar x={654} top={45.5} bottom={270} w={6} labelX={668} />

      {/* GO legends */}
      <GoLegend x={258.3} y={517.3} textX={267.7} />
      <GoLegend x={594.3} y={516.7} textX={605.7} />

      {/* KEGG colour bars */}
      <PColorBar x={339} top={671} bottom={703} w={7} stops={STOPS_E} labels={[["0.02", 672.5], ["0.01", 683.5]]} labelX={348} titleY={663} />
      <PColorBar x={675} top={683} bottom={718} w={6} stops={STOPS_F} labels={[["0.03", 684], ["0.02", 695.5], ["0.01", 707]]} labelX={683} titleY={677} />

      {/* GSEA axis titles */}
      <Txt x={36.7} y={888} rot={-90}>Running enrichment score</Txt>
      <Txt x={36.7} y={983} rot={-90}>Ranked list metric</Txt>
      <Txt x={396.7} y={891.7} rot={-90}>Running enrichment score</Txt>
      <Txt x={396.7} y={986.7} rot={-90}>Ranked list metric</Txt>

      {/* GSEA legends */}
      <GseaLegend x={218} textX={230} y={846} names={gseaNamesG} colors={colsG} />
      <GseaLegend x={564} textX={575} y={846.7} names={gseaNamesH} colors={colsH} extra={["_MUSCLE _CONTRACTION", 580.7]} />
    </div>
  );
}
